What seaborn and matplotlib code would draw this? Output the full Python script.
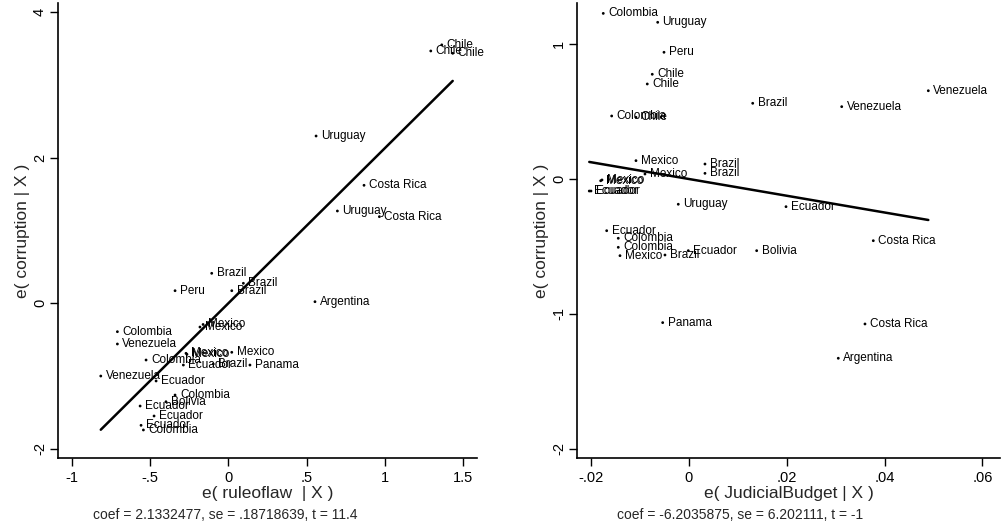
import numpy as np
import pandas as pd
import matplotlib
matplotlib.use('Agg')
import matplotlib.pyplot as plt
import seaborn as sns

sns.set_style('ticks')
plt.rcParams['font.family'] = ['Liberation Sans', 'DejaVu Sans']

#------------------DATA-------------------------------------------
# left panel: e(ruleoflaw | X) vs e(corruption | X)
rol_country = ['Chile', 'Chile', 'Chile', 'Uruguay', 'Costa Rica', 'Uruguay',
               'Costa Rica', 'Brazil', 'Brazil', 'Brazil', 'Peru', 'Argentina',
               'Mexico', 'Mexico', 'Colombia', 'Venezuela', 'Mexico', 'Mexico',
               'Mexico', 'Colombia', 'Ecuador', 'Brazil', 'Panama', 'Venezuela',
               'Ecuador', 'Colombia', 'Bolivia', 'Ecuador', 'Ecuador', 'Ecuador',
               'Colombia']
rol_x = [1.362, 1.292, 1.432, 0.560, 0.866, 0.696, 0.964, -0.106, 0.096, 0.022,
         -0.340, 0.553, -0.181, -0.161, -0.708, -0.708, -0.270, -0.264, 0.022,
         -0.525, -0.287, -0.096, 0.138, -0.814, -0.461, -0.340, -0.398, -0.563,
         -0.474, -0.557, -0.542]
rol_y = [3.550, 3.466, 3.434, 2.298, 1.621, 1.268, 1.190, 0.412, 0.275, 0.173,
         0.173, 0.022, -0.326, -0.291, -0.390, -0.559, -0.687, -0.701, -0.673,
         -0.779, -0.848, -0.834, -0.848, -0.999, -1.067, -1.260, -1.352, -1.411,
         -1.548, -1.676, -1.740]
rol_coef = 2.1332477
rol_note = 'coef = 2.1332477, se = .18718639, t = 11.4'

# right panel: e(JudicialBudget | X) vs e(corruption | X)
jb_country = ['Colombia', 'Uruguay', 'Peru', 'Chile', 'Chile', 'Venezuela',
              'Brazil', 'Venezuela', 'Colombia', 'Chile', 'Mexico', 'Brazil',
              'Mexico', 'Brazil', 'Mexico', 'Mexico', 'Ecuador', 'Ecuador',
              'Uruguay', 'Ecuador', 'Ecuador', 'Colombia', 'Colombia', 'Ecuador',
              'Bolivia', 'Mexico', 'Brazil', 'Costa Rica', 'Panama', 'Costa Rica',
              'Argentina']
jb_x = [-0.01753, -0.00640, -0.00511, -0.00751, -0.00853, 0.04894, 0.01303,
        0.03123, -0.01581, -0.01084, -0.01084, 0.00327, -0.00900, 0.00327,
        -0.01806, -0.01779, -0.02039, -0.02004, -0.00219, 0.01984, -0.01683,
        -0.01446, -0.01446, -0.00014, 0.01384, -0.01411, -0.00491, 0.03769,
        -0.00538, 0.03599, 0.03053]
jb_y = [1.227, 1.161, 0.939, 0.776, 0.704, 0.654, 0.561, 0.536, 0.467, 0.457,
        0.136, 0.111, 0.037, 0.042, -0.013, -0.007, -0.089, -0.089, -0.187,
        -0.205, -0.383, -0.439, -0.506, -0.531, -0.531, -0.568, -0.563, -0.457,
        -1.064, -1.074, -1.328]
jb_coef = -6.2035875
jb_note = 'coef = -6.2035875, se = 6.202111, t = -1'

rol_xticks = [-1, -0.5, 0, 0.5, 1, 1.5]
rol_xticklabels = ['-1', '-.5', '0', '.5', '1', '1.5']
rol_yticks = [-2, 0, 2, 4]
rol_yticklabels = ['-2', '0', '2', '4']

jb_xticks = [-0.02, 0, 0.02, 0.04, 0.06]
jb_xticklabels = ['-.02', '0', '.02', '.04', '.06']
jb_yticks = [-2, -1, 0, 1]
jb_yticklabels = ['-2', '-1', '0', '1']

#------------------PLOTTING-------------------------------------------
W, H = 1001, 525
fig = plt.figure(figsize=(W / 100, H / 100), dpi=100)


def avplot(rect, names, x, y, coef, xlabel, note, xticks, xticklabels,
           yticks, yticklabels, xlim, ylim, note_x):
    ax = fig.add_axes(rect)
    df = pd.DataFrame({'x': x, 'y': y, 'name': names})
    sns.scatterplot(data=df, x='x', y='y', ax=ax, color='black', s=4,
                    edgecolor='none', legend=False)
    for _, r in df.iterrows():
        ax.annotate(r['name'], (r['x'], r['y']), xytext=(3.5, 0),
                    textcoords='offset points', va='center', ha='left',
                    fontsize=8.5, color='black')
    # fitted line through the residuals
    xs = np.array([df['x'].min(), df['x'].max()])
    sns.lineplot(x=xs, y=coef * xs, ax=ax, color='black', lw=1.8)

    ax.set_xlim(*xlim)
    ax.set_ylim(*ylim)
    ax.set_xticks(xticks)
    ax.set_xticklabels(xticklabels, fontsize=10.5)
    ax.set_yticks(yticks)
    ax.set_yticklabels(yticklabels, fontsize=10.5, rotation=90, va='center')
    ax.tick_params(direction='out', length=6, width=1, pad=3, colors='black')
    ax.tick_params(axis='y', pad=2)
    sns.despine(ax=ax)
    for s in ['left', 'bottom']:
        ax.spines[s].set_linewidth(1.2)
        ax.spines[s].set_color('black')
    ax.set_xlabel(xlabel, fontsize=12.5, labelpad=1)
    ax.set_ylabel('e( corruption | X )', fontsize=12.5, labelpad=2)
    fig.text(note_x, 1 - 515 / H, note, fontsize=10, va='center', ha='center')
    return ax


ax1 = avplot([58 / W, 1 - 458 / H, 419 / W, 455 / H],
             rol_country, rol_x, rol_y, rol_coef, 'e( ruleoflaw  | X )', rol_note,
             rol_xticks, rol_xticklabels, rol_yticks, rol_yticklabels,
             (-1.087, 1.587), (-2.125, 4.125), 225 / W)
ax2 = avplot([577 / W, 1 - 458 / H, 423 / W, 455 / H],
             jb_country, jb_x, jb_y, jb_coef, 'e( JudicialBudget | X )', jb_note,
             jb_xticks, jb_xticklabels, jb_yticks, jb_yticklabels,
             (-0.0229, 0.0636), (-2.067, 1.304), 740 / W)

fig.savefig('out.png', dpi=100)
